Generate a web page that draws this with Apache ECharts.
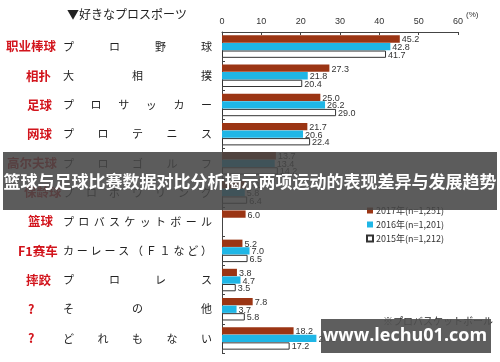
<!DOCTYPE html>
<html><head><meta charset="utf-8">
<script src="https://cdn.jsdelivr.net/npm/echarts@6/dist/echarts.min.js"></script>
<style>html,body{margin:0;padding:0;background:#fff}#c{width:500px;height:362px}</style>
</head><body><div id="c"></div>
<script>
// ---- data ----
const categoriesZh = ['职业棒球','相扑','足球','网球','高尔夫球','保龄球','篮球','F1赛车','摔跤','?','?'];
const categoriesJa = ['プロ野球','大相撲','プロサッカー','プロテニス','プロゴルフ','プロボウリング','プロバスケットボール','カーレース（Ｆ１など）','プロレス','その他','どれもない'];
const seriesNames = ['2017年(n=1,251)','2016年(n=1,201)','2015年(n=1,212)'];
const v2017 = [45.2, 27.3, 25.0, 21.7, 13.7, 6.1, 6.0, 5.2, 3.8, 7.8, 18.2];
const v2016 = [42.8, 21.8, 26.2, 20.6, 13.4, 5.8, null, 7.0, 4.7, 3.7, 24.0];
const v2015 = [41.7, 20.4, 29.0, 22.4, 14.2, 6.4, null, 6.5, 3.5, 5.8, 17.2];
const xTicks = {min: 0, max: 60, interval: 10};

// ---- layout / style ----
const zhLabelLeft = [6, 26, 27, 27, 7, 24, 28, 18, 26, 28, 28];
const JA_W = 149, JA_CW = 11;
const jaFont = '"Noto Sans CJK JP", sans-serif';
const zhFont = '"Noto Sans CJK SC", sans-serif';
const numFont = '"Liberation Sans", Arial, sans-serif';

const jaRich = {e: {width: JA_CW, align: 'left', fontSize: 11, fontFamily: jaFont, color: '#222'}};
categoriesJa.forEach(s => {
  const n = Array.from(s).length;
  jaRich['j' + n] = {width: (JA_W - JA_CW) / (n - 1), align: 'left', fontSize: 11, fontFamily: jaFont, color: '#222'};
});
const zhRich = {t: {fontSize: 12.5, fontFamily: zhFont, color: '#d2141c', fontWeight: 'bold'}};
zhLabelLeft.forEach((x, i) => { zhRich['p' + i] = {width: Math.max(x - 4, 0.1), fontSize: 12}; });

const chart = echarts.init(document.getElementById('c'), null, {renderer: 'canvas'});
const labelCfg = {show: true, position: 'right', distance: 2, offset: [0, 1], fontSize: 9, fontFamily: numFont, color: '#333',
  formatter: p => (p.value == null ? '' : Number(p.value).toFixed(1))};
const colors = ['#9b3514', '#1fb6e6', '#ffffff'];
const vals = [v2017, v2016, v2015];

chart.setOption({
  animation: false,
  title: {text: '▼好きなプロスポーツ', left: 62, top: 3, textStyle: {fontSize: 12, fontWeight: 'normal', color: '#222', fontFamily: jaFont}},
  legend: {
    orient: 'vertical', left: 361, top: 201, itemWidth: 6, itemHeight: 6, itemGap: 5, icon: 'rect',
    textStyle: {fontSize: 9, color: '#333', fontFamily: jaFont, padding: [0, 0, 0, -2]},
    data: seriesNames
  },
  grid: {left: 222, right: 42, top: 32, bottom: 9, containLabel: false},
  xAxis: {
    type: 'value', position: 'top', min: xTicks.min, max: xTicks.max, interval: xTicks.interval,
    axisLine: {show: true, lineStyle: {color: '#444', width: 1}},
    axisTick: {show: true, inside: true, length: 3, lineStyle: {color: '#444'}},
    axisLabel: {fontSize: 9, color: '#333', fontFamily: numFont, margin: 6},
    splitLine: {show: false}
  },
  yAxis: [
    {type: 'category', inverse: true, data: categoriesJa, position: 'left',
     axisLine: {show: true, lineStyle: {color: '#444'}},
     axisTick: {show: true, inside: true, length: 3, lineStyle: {color: '#444'}},
     axisLabel: {align: 'right', margin: 10, rich: jaRich,
       formatter: s => { const ch = Array.from(s); const n = ch.length;
         return ch.map((c, i) => '{' + (i < n - 1 ? 'j' + n : 'e') + '|' + c + '}').join(''); }}},
    {type: 'category', inverse: true, data: categoriesZh, position: 'left',
     axisLine: {show: false}, axisTick: {show: false},
     axisLabel: {align: 'left', margin: 218, rich: zhRich,
       formatter: (s, i) => '{p' + i + '| }{t|' + s + '}'}}
  ],
  series: vals.map((v, k) => ({
    name: seriesNames[k], type: 'bar', yAxisIndex: 0, data: v,
    barWidth: 7.3, barGap: '4%',
    itemStyle: {color: colors[k], borderColor: k === 2 ? '#333' : colors[k], borderWidth: k === 2 ? 1 : 0},
    label: labelCfg
  })),
  graphic: [
    {type: 'text', left: 466, top: 11, style: {text: '(%)', fontSize: 8, fill: '#333', fontFamily: numFont}},
    {type: 'text', left: 383, top: 316, style: {text: '※プロバスケットボール', fontSize: 10, fill: '#222', fontFamily: jaFont}},
    {type: 'rect', z: 100, shape: {x: 3, y: 152, width: 494, height: 58}, style: {fill: 'rgba(70,70,70,0.88)'}},
    {type: 'text', z: 101, x: 250, y: 182, style: {text: '篮球与足球比赛数据对比分析揭示两项运动的表现差异与发展趋势', fontSize: 17, fontWeight: 'bold', fill: '#fff', fontFamily: zhFont, align: 'center', verticalAlign: 'middle'}},
    {type: 'rect', z: 100, shape: {x: 321, y: 319, width: 170, height: 34}, style: {fill: 'rgba(80,80,80,0.92)'}},
    {type: 'text', z: 101, x: 405, y: 336, style: {text: 'www.lechu01.com', fontSize: 18, fontWeight: 'bold', fill: '#fff', fontFamily: '"Open Sans", "DejaVu Sans", sans-serif', align: 'center', verticalAlign: 'middle'}}
  ]
});
</script></body></html>
